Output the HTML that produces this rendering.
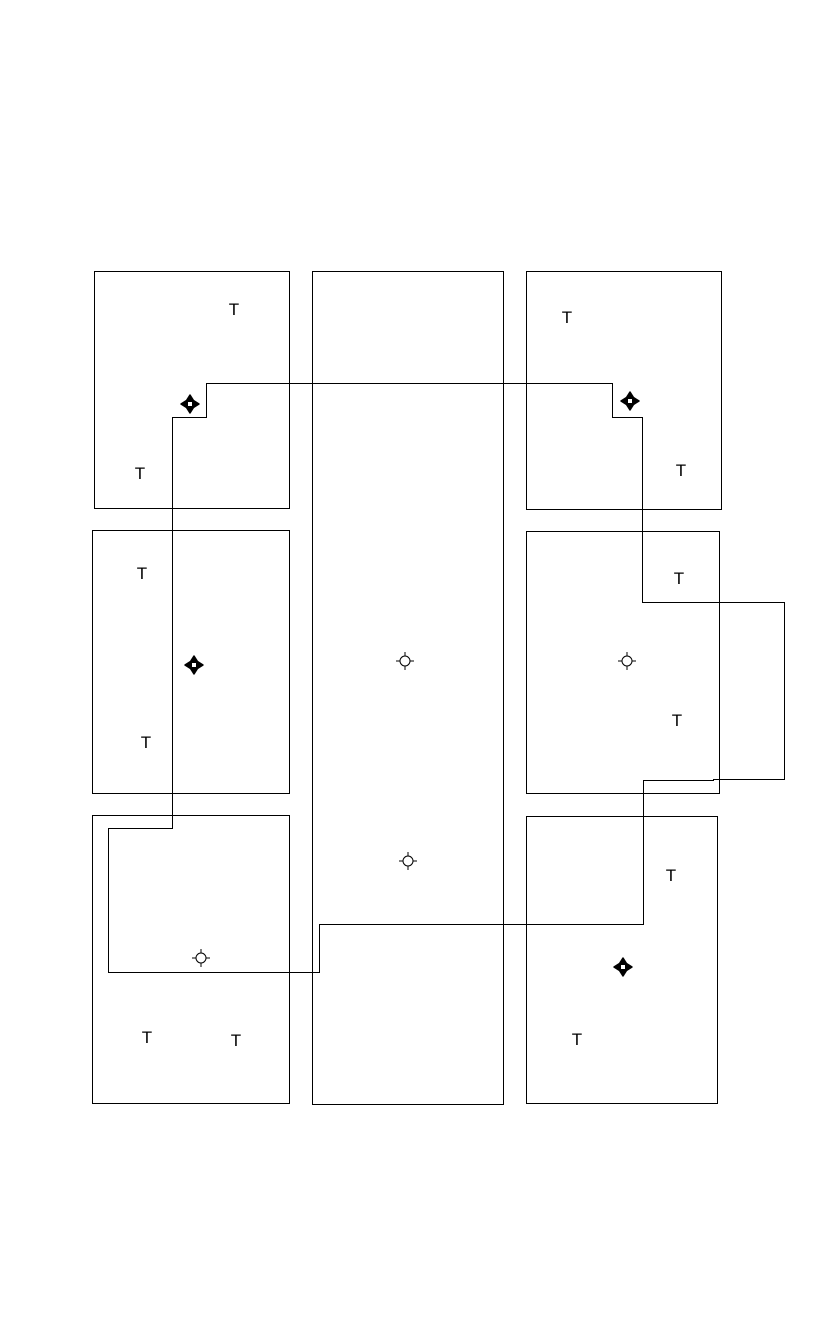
<!DOCTYPE html>
<html><head><meta charset="utf-8"><style>html,body{margin:0;padding:0;background:#fff}svg{display:block}</style></head>
<body>
<svg width="816" height="1344" viewBox="0 0 816 1344" xmlns="http://www.w3.org/2000/svg">
<defs>
<g id="b">
<path d="M0,-9 L3.5,-3.5 L9,0 L3.5,3.5 L0,9 L-3.5,3.5 L-9,0 L-3.5,-3.5 Z" fill="#000" stroke="#000" stroke-width="1.5" stroke-linejoin="round"/>
<rect x="-2" y="-2" width="4" height="4" fill="#fff"/>
</g>
<g id="l" fill="none" stroke="#000" stroke-width="1">
<circle r="5"/>
<path d="M0,-9V-5M0,5V9M-9,0H-5M5,0H9"/>
</g>
</defs>
<g fill="none" stroke="#000" stroke-width="1">
<rect x="94.5" y="271.5" width="195" height="237"/>
<rect x="312.5" y="271.5" width="191" height="833"/>
<rect x="526.5" y="271.5" width="195" height="238"/>
<rect x="92.5" y="530.5" width="197" height="263"/>
<rect x="526.5" y="531.5" width="193" height="262"/>
<rect x="92.5" y="815.5" width="197" height="288"/>
<rect x="526.5" y="816.5" width="191" height="287"/>
<path d="M172.5,828.5 V417.5 H206.5 V383.5 H612.5 V417.5 H642.5 V602.5 H784.5 V779.5 H713.5 V780.5 H643.5 V924.5 H319.5 V972.5 H108.5 V828.5 Z"/>
</g>
<use href="#b" x="190" y="404"/>
<use href="#b" x="630" y="401"/>
<use href="#b" x="194" y="665"/>
<use href="#b" x="623" y="967"/>
<use href="#l" x="405" y="661"/>
<use href="#l" x="627" y="661"/>
<use href="#l" x="408" y="861"/>
<use href="#l" x="201" y="958"/>
<g font-family="Liberation Sans, sans-serif" font-size="17" text-anchor="middle" fill="#000">
<text x="234" y="315">T</text>
<text x="567" y="323">T</text>
<text x="140" y="479">T</text>
<text x="681" y="476">T</text>
<text x="142" y="579">T</text>
<text x="679" y="584">T</text>
<text x="146" y="748">T</text>
<text x="677" y="726">T</text>
<text x="671" y="881">T</text>
<text x="147" y="1043">T</text>
<text x="236" y="1046">T</text>
<text x="577" y="1045">T</text>
</g>
</svg>
</body></html>
